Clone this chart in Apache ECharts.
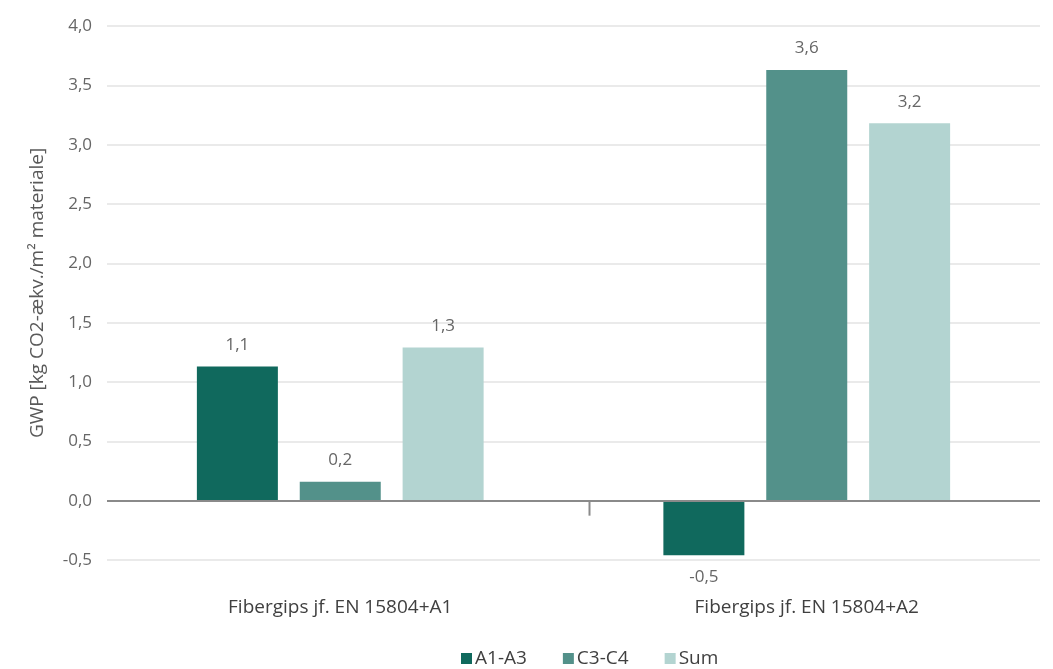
<!DOCTYPE html>
<html>
<head>
<meta charset="utf-8">
<script src="https://cdn.jsdelivr.net/npm/echarts@6/dist/echarts.min.js"></script>
<style>
  html, body { margin: 0; padding: 0; background: #ffffff; }
  #chart { width: 1053px; height: 669px; }
</style>
</head>
<body>
<div id="chart"></div>
<script>
// Categories and GWP values [kg CO2-ækv./m² materiale]
const categories = ['Fibergips jf. EN 15804+A1', 'Fibergips jf. EN 15804+A2'];
const seriesNames = ['A1-A3', 'C3-C4', 'Sum'];
const valuesA1A3 = [1.13, -0.46];
const valuesC3C4 = [0.16, 3.63];
const valuesSum = [1.29, 3.18];
const seriesColors = ['#10695d', '#53918a', '#b3d4d1'];

const FONT = '"Open Sans", Roboto, sans-serif';
const fmt = v => (Math.round(v * 10) / 10).toFixed(1).replace('.', ',');

function barSeries(name, values, color) {
  return {
    name: name,
    type: 'bar',
    barWidth: 81,
    barGap: '27%',
    itemStyle: { color: color },
    data: values.map(v => ({
      value: v,
      label: { position: v < 0 ? 'bottom' : 'top' }
    })),
    label: {
      show: true,
      distance: 13,
      color: '#666666',
      fontFamily: FONT,
      fontSize: 17,
      formatter: p => fmt(p.value)
    }
  };
}

const chart = echarts.init(document.getElementById('chart'), null, { renderer: 'canvas' });

const option = {
  animation: false,
  backgroundColor: '#ffffff',
  grid: { left: 107, right: 13, top: 26, bottom: 109, containLabel: false },
  legend: {
    top: 647,
    left: 456,
    padding: [2, 5, 0, 5],
    itemWidth: 11,
    itemHeight: 11,
    itemGap: 36,
    icon: 'rect',
    textStyle: { fontFamily: FONT, fontSize: 19, color: '#404040', padding: [0, 0, 0, -2] },
    data: seriesNames
  },
  xAxis: {
    type: 'category',
    data: categories,
    position: 'bottom',
    axisLine: { show: false, onZero: false },
    axisTick: { show: false },
    axisLabel: { margin: 38, fontFamily: FONT, fontSize: 19, color: '#404040' }
  },
  yAxis: {
    type: 'value',
    min: -0.5,
    max: 4.0,
    interval: 0.5,
    name: 'GWP [kg CO2-ækv./m² materiale]',
    nameLocation: 'middle',
    nameGap: 60,
    nameTextStyle: { fontFamily: FONT, fontSize: 19, color: '#595959' },
    axisLine: { show: false },
    axisTick: { show: false },
    axisLabel: { margin: 15, fontFamily: FONT, fontSize: 17, color: '#666666', formatter: v => fmt(v) },
    splitLine: { lineStyle: { color: '#e3e3e3', width: 1.5 } }
  },
  series: [
    Object.assign(barSeries(seriesNames[0], valuesA1A3, seriesColors[0]), {
      markLine: {
        silent: true,
        symbol: 'none',
        label: { show: false },
        lineStyle: { color: '#8a8a8a', width: 2, type: 'solid' },
        data: [{ yAxis: 0 }]
      }
    }),
    barSeries(seriesNames[1], valuesC3C4, seriesColors[1]),
    barSeries(seriesNames[2], valuesSum, seriesColors[2])
  ]
};

chart.setOption(option);

// Category divider tick hanging below the zero line
const c0 = chart.convertToPixel({ xAxisIndex: 0 }, categories[0]);
const c1 = chart.convertToPixel({ xAxisIndex: 0 }, categories[1]);
const y0 = chart.convertToPixel({ yAxisIndex: 0 }, 0);
chart.setOption({
  graphic: [{
    type: 'line',
    silent: true,
    shape: { x1: (c0 + c1) / 2 + 16, y1: y0, x2: (c0 + c1) / 2 + 16, y2: y0 + 15 },
    style: { stroke: '#8a8a8a', lineWidth: 2 }
  }]
});
</script>
</body>
</html>
